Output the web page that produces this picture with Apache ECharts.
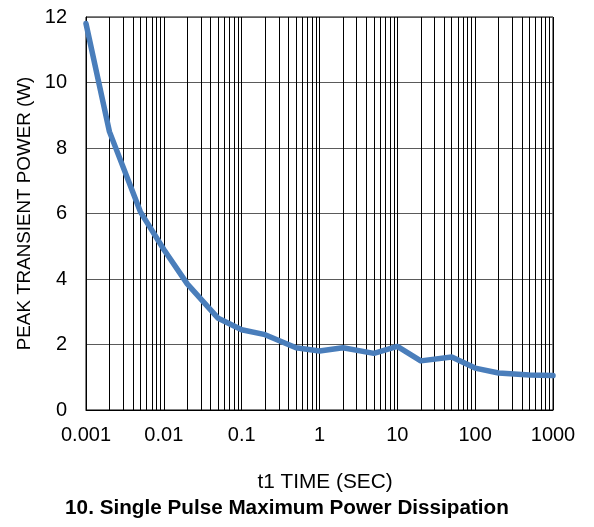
<!DOCTYPE html>
<html><head><meta charset="utf-8">
<script src="https://cdn.jsdelivr.net/npm/echarts@6/dist/echarts.min.js"></script>
<style>html,body{margin:0;padding:0;background:#fff}#c{width:594px;height:527px}</style>
</head><body><div id="c"></div>
<script>
var times = [0.001, 0.002, 0.005, 0.01, 0.02, 0.05, 0.1, 0.2, 0.5, 1, 2, 5, 10, 20, 50, 100, 200, 500, 1000];
var power = [11.8, 8.5, 6.05, 4.9, 3.85, 2.8, 2.45, 2.3, 1.9, 1.8, 1.9, 1.73, 1.94, 1.5, 1.62, 1.28, 1.13, 1.07, 1.05];
var decades = [0.001, 0.01, 0.1, 1, 10, 100];
var minorMultipliers = [2, 3, 4, 5, 6, 7, 8, 9];
var yTicks = [0, 2, 4, 6, 8, 10, 12];

var minorLines = [];
decades.forEach(function (d) {
  minorMultipliers.forEach(function (m) {
    var x = +(d * m).toPrecision(6);
    minorLines.push({ coords: [[x, yTicks[0]], [x, yTicks[yTicks.length - 1]]] });
  });
});

var chart = echarts.init(document.getElementById('c'));
var font = 'Liberation Sans, Arial, sans-serif';
chart.setOption({
  animation: false,
  title: [
    { text: 't1 TIME (SEC)', left: 320, textAlign: 'center', top: 467, textStyle: { fontFamily: font, fontSize: 20.8, fontWeight: 'normal', color: '#000' } },
    { text: '10. Single Pulse Maximum Power Dissipation', left: 282, textAlign: 'center', top: 493, textStyle: { fontFamily: font, fontSize: 20.7, fontWeight: 'bold', color: '#000' } }
  ],
  grid: { left: 86, right: 41, top: 17, bottom: 117, show: true, borderColor: '#000', borderWidth: 1, containLabel: false, outerBoundsMode: 'none' },
  xAxis: {
    type: 'log', logBase: 10, min: 0.001, max: 1000,
    axisLine: { show: true, lineStyle: { color: '#000', width: 1 } },
    axisTick: { show: false },
    axisLabel: { fontFamily: font, fontSize: 20, color: '#000', margin: 15,
      formatter: function (v) { return String(+v.toPrecision(6)); } },
    splitLine: { show: true, lineStyle: { color: '#000', width: 1 } }
  },
  yAxis: {
    type: 'value', min: 0, max: 12, interval: 2,
    name: 'PEAK TRANSIENT POWER (W)', nameLocation: 'middle', nameGap: 52, nameRotate: 90,
    nameTextStyle: { fontFamily: font, fontSize: 18.8, color: '#000' },
    axisLine: { show: true, lineStyle: { color: '#000' } },
    axisTick: { show: false },
    axisLabel: { fontFamily: font, fontSize: 20, color: '#000', margin: 19 },
    splitLine: { show: true, lineStyle: { color: '#5a5a5a', width: 1 } }
  },
  series: [{
    type: 'lines',
    coordinateSystem: 'cartesian2d',
    silent: true,
    z: 1,
    lineStyle: { color: '#000', width: 1, opacity: 1 },
    data: minorLines
  }, {
    type: 'line',
    data: times.map(function (t, i) { return [t, power[i]]; }),
    showSymbol: false,
    smooth: false,
    lineStyle: { color: '#4a7ebb', width: 5.5, join: 'round', cap: 'round' },
    z: 5
  }]
});
</script></body></html>
